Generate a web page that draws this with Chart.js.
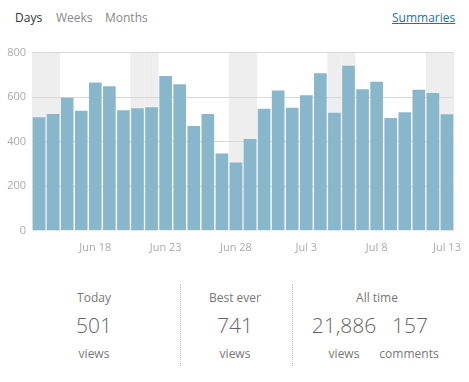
<!DOCTYPE html>
<html>
<head>
<meta charset="utf-8">
<script src="https://cdn.jsdelivr.net/npm/chart.js@4/dist/chart.umd.min.js"></script>
<style>
  body{margin:0;background:#fff;font-family:"Open Sans",sans-serif;width:469px;height:382px;position:relative;overflow:hidden}
  .tab{position:absolute;top:9px;font-size:12px;color:#888}
  .abs{position:absolute;text-align:center;transform:translateX(-50%);white-space:nowrap}
  .lbl{font-size:12px;color:#777}
  .num{font-size:21px;font-weight:300;color:#666}
  .sep{position:absolute;top:284px;height:82px;border-left:1px dotted #bbb}
  #wrap{position:absolute;left:0;top:40px;width:469px;height:216px}
</style>
</head>
<body>
<div class="tab" style="left:15px;color:#333">Days</div>
<div class="tab" style="left:56px">Weeks</div>
<div class="tab" style="left:105px">Months</div>
<div class="tab" style="left:392px;color:#21759b;text-decoration:underline">Summaries</div>

<div id="wrap"><canvas id="chart" width="469" height="216"></canvas></div>

<div class="sep" style="left:180px"></div>
<div class="sep" style="left:292px"></div>

<div class="abs lbl" style="left:94px;top:289px">Today</div>
<div class="abs num" style="left:94px;top:311px">501</div>
<div class="abs lbl" style="left:94px;top:345px">views</div>

<div class="abs lbl" style="left:235px;top:289px">Best ever</div>
<div class="abs num" style="left:235px;top:311px">741</div>
<div class="abs lbl" style="left:235px;top:345px">views</div>

<div class="abs lbl" style="left:377px;top:289px">All time</div>
<div class="abs num" style="left:344px;top:311px">21,886</div>
<div class="abs num" style="left:410px;top:311px">157</div>
<div class="abs lbl" style="left:344px;top:345px">views</div>
<div class="abs lbl" style="left:409px;top:345px">comments</div>

<script>
// daily views, Jun 14 - Jul 13
const days = ["Jun 14","Jun 15","Jun 16","Jun 17","Jun 18","Jun 19","Jun 20","Jun 21","Jun 22","Jun 23",
  "Jun 24","Jun 25","Jun 26","Jun 27","Jun 28","Jun 29","Jun 30","Jul 1","Jul 2","Jul 3",
  "Jul 4","Jul 5","Jul 6","Jul 7","Jul 8","Jul 9","Jul 10","Jul 11","Jul 12","Jul 13"];
const views = [510,524,597,539,666,649,541,550,555,695,658,470,524,347,307,
  412,548,630,552,608,707,530,741,636,669,506,532,633,619,523];
const weekend = ["Jun 14","Jun 15","Jun 21","Jun 22","Jun 28","Jun 29","Jul 5","Jul 6","Jul 12","Jul 13"];
const tickLabels = ["Jun 18","Jun 23","Jun 28","Jul 3","Jul 8","Jul 13"];
const yTicks = [0,200,400,600,800];

const weekendShade = {
  id:'weekendShade',
  beforeDraw(chart){
    const {ctx, chartArea:a, scales:{x, y}} = chart;
    const step = x.getPixelForValue(1) - x.getPixelForValue(0);
    ctx.save();
    ctx.fillStyle = '#eeeeee';
    days.forEach((d,i)=>{
      if(!weekend.includes(d)) return;
      const cx = x.getPixelForValue(i);
      ctx.fillRect(cx - step/2, y.getPixelForValue(800), step, a.bottom - y.getPixelForValue(800));
    });
    ctx.restore();
  }
};

new Chart(document.getElementById("chart").getContext("2d"), {
  type:'bar',
  data:{labels:days, datasets:[{data:views, backgroundColor:'#88b6cb', barPercentage:1, categoryPercentage:0.9}]},
  options:{
    responsive:false, animation:false,
    layout:{padding:{top:2, right:15}},
    plugins:{legend:{display:false}, tooltip:{enabled:false}},
    scales:{
      x:{
        grid:{display:false}, border:{display:false},
        ticks:{autoSkip:false, maxRotation:0, padding:2, color:'#aaa', font:{family:'Open Sans', size:11},
          callback:(v,i)=> tickLabels.includes(days[i]) ? days[i] : ''}
      },
      y:{
        min:0, max:800,
        afterFit(s){ s.width = 32; },
        afterBuildTicks(s){ s.ticks = yTicks.map(v=>({value:v})); },
        border:{display:false},
        grid:{color:(c)=> c.tick.value===0 ? 'rgba(0,0,0,0)' : '#d8d8d8', drawTicks:false},
        ticks:{padding:6, color:'#aaa', font:{family:'Open Sans', size:11}}
      }
    }
  },
  plugins:[weekendShade]
});
</script>
</body>
</html>
